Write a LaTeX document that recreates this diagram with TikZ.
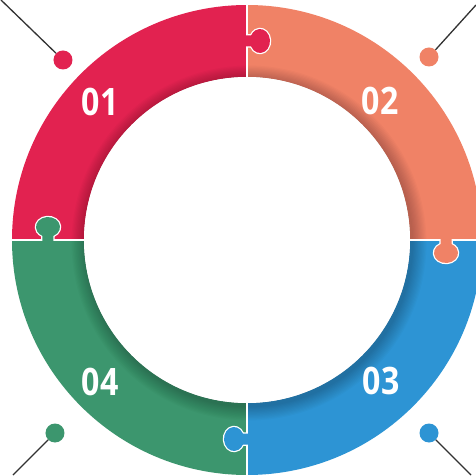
\documentclass[tikz,border=0pt]{standalone}
\usepackage{fontspec}
\newfontfamily\numfont{Open Sans}[FakeStretch=0.85]

\definecolor{pzred}{RGB}{226,34,80}
\definecolor{pzorange}{RGB}{240,130,102}
\definecolor{pzblue}{RGB}{45,148,212}
\definecolor{pzgreen}{RGB}{60,150,110}
\definecolor{pzline}{RGB}{50,50,50}

\tikzset{
  piecenum/.style={text=white, inner sep=0pt,
                   font=\numfont\bfseries\fontsize{37.8}{40}\selectfont},
  bullet/.style={circle, fill=#1, minimum size=19pt, inner sep=0pt},
  lead/.style={draw=pzline, line width=1.3pt},
  gap/.style={draw=white, line width=2.5pt},
}

\begin{document}
\begin{tikzpicture}[x=1pt, y=1pt]
    \useasboundingbox[fill=white] (-247,-236) rectangle (229,240);
    % ring pieces
    \foreach \col/\a in {pzorange/0, pzred/90, pzgreen/180, pzblue/270}
      \fill[\col] (\a:235) arc (\a:\a+90:235) -- (\a+90:163) arc (\a+90:\a:163) -- cycle;
    % soft shadow of the centre
    \foreach \k in {1,...,12}
      \fill[black, opacity=0.02] (2,-3) circle (163+1.2*\k);
    % joints
    \foreach \a in {0,90,180,270}
      \draw[gap] (\a:160) -- (\a:237);
    \foreach \col/\rot in {pzred/0, pzorange/-90, pzblue/-180, pzgreen/-270} {
      \begin{scope}[rotate=\rot]
        \draw[gap] (0,193.5) -- (4.1,193.5)
          arc[start angle=207.3, end angle=512.7, x radius=10, y radius=12] -- (0,204.5);
        \fill[\col] (-2,193.5) -- (4.1,193.5)
          arc[start angle=207.3, end angle=512.7, x radius=10, y radius=12] -- (-2,204.5) -- cycle;
      \end{scope}
    }
    \fill[white] (0,0) circle (163);
    % numbers
    \node[piecenum] (n1) at (-147,138) {01};
    \node[piecenum] (n2) at (133,139) {02};
    \node[piecenum] (n3) at (134,-141) {03};
    \node[piecenum] (n4) at (-147,-142) {04};
    % markers
    \node[bullet=pzred] (b1) at (-184,180) {};
    \node[bullet=pzorange] (b2) at (182,183) {};
    \node[bullet=pzblue] (b3) at (182,-193) {};
    \node[bullet=pzgreen] (b4) at (-192,-193) {};
    \coordinate (e1) at (-246,240);
    \coordinate (e2) at (229,235);
    \coordinate (e3) at (224,-235);
    \coordinate (e4) at (-234,-235);
    \foreach \i in {1,...,4}
      \draw[lead] (e\i) -- (b\i);
\end{tikzpicture}
\end{document}
